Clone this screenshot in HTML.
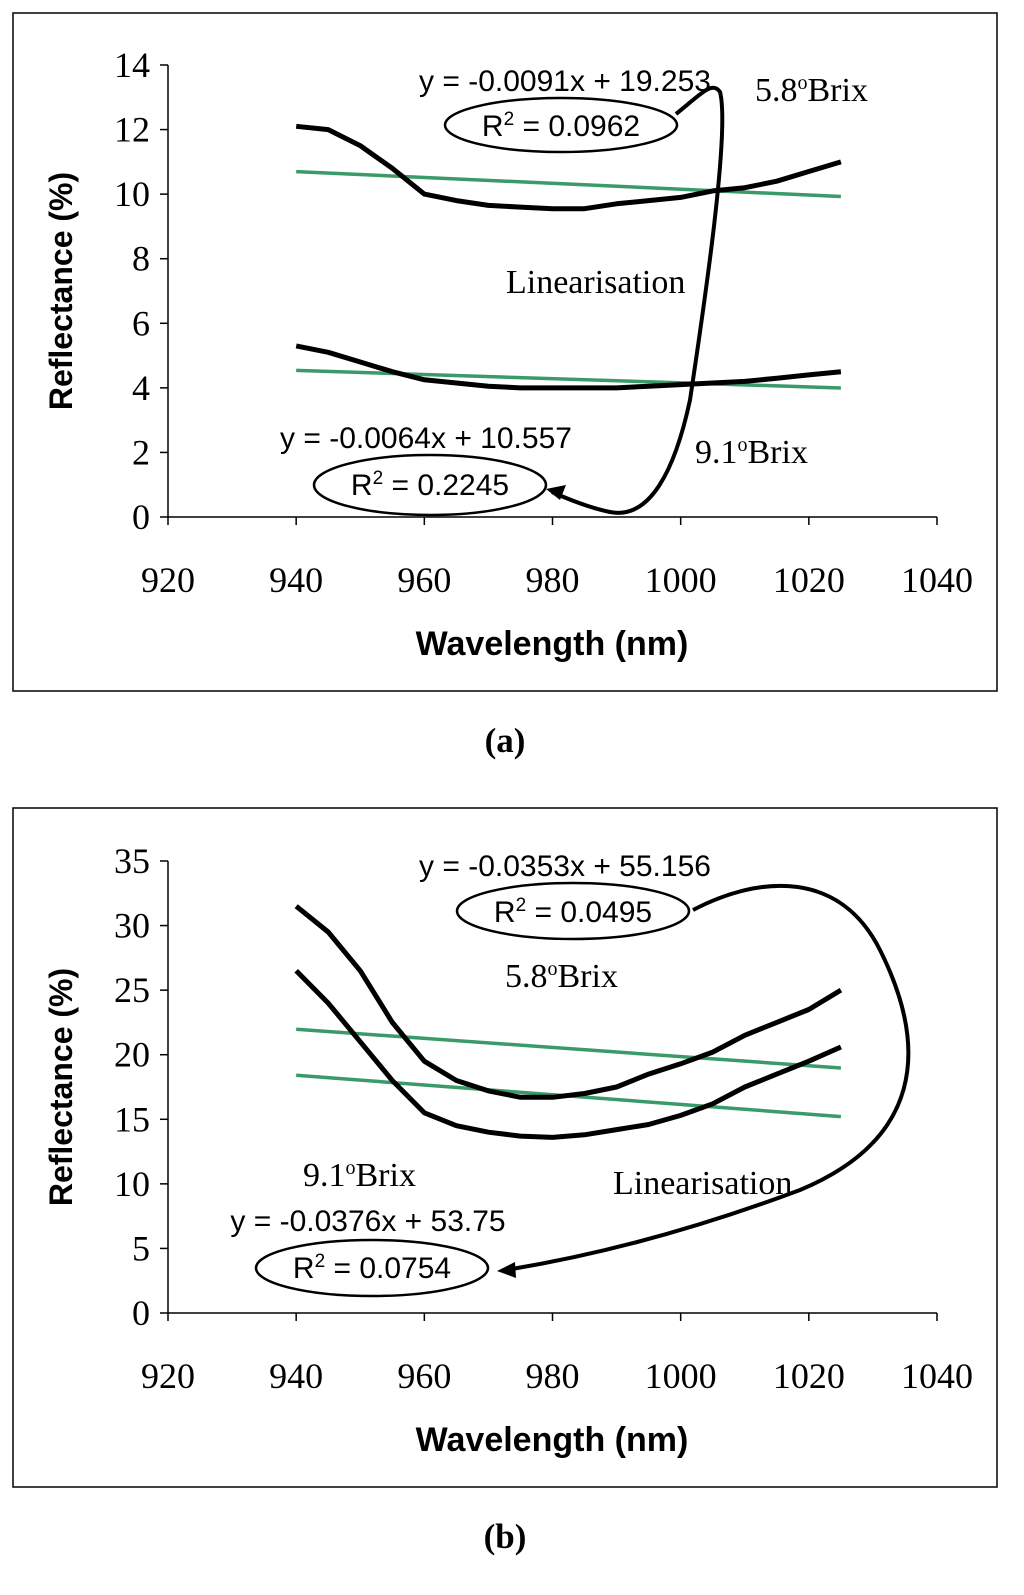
<!DOCTYPE html>
<html><head><meta charset="utf-8"><style>
body{margin:0;background:#fff}
svg text{font-family:"Liberation Serif",serif}
.sans{font-family:"Liberation Sans",sans-serif}
</style></head><body>
<svg id="svg" width="1024" height="1590" viewBox="0 0 1024 1590" xmlns="http://www.w3.org/2000/svg">
<rect x="13" y="13" width="984" height="678" fill="none" stroke="#000" stroke-width="1.5"/>
<rect x="13" y="808" width="984" height="679" fill="none" stroke="#000" stroke-width="1.5"/>
<g id="ga"></g>
<g id="gb"></g>
<text x="505" y="752" font-size="35" font-weight="bold" text-anchor="middle">(a)</text>
<text x="505" y="1548" font-size="35" font-weight="bold" text-anchor="middle">(b)</text>
<g fill="none" stroke="#000">
<ellipse cx="561" cy="125" rx="116" ry="27" stroke-width="2.5"/>
<ellipse cx="430" cy="485" rx="116" ry="30" stroke-width="2.5"/>
<path d="M676,114 C700,95 712,80 720,92 C730,130 705,300 690,400 C675,470 650,520 610,512 C590,508 570,500 552,492" stroke-width="4"/>
<polygon points="546,489 566,485 560,500" fill="#000" stroke="none"/>
<ellipse cx="573" cy="911" rx="116" ry="28" stroke-width="2.5"/>
<ellipse cx="372" cy="1268" rx="116" ry="28" stroke-width="2.5"/>
<path d="M693,910 C760,875 840,870 880,950 C930,1050 920,1140 800,1190 C680,1235 580,1258 506,1270" stroke-width="4"/>
<polygon points="497,1271 515,1262 516,1278" fill="#000" stroke="none"/>
</g>
<g>
<text class="sans" x="565" y="91" text-anchor="middle" font-size="30">y = -0.0091x + 19.253</text>
<text class="sans" x="561" y="136" text-anchor="middle" font-size="30">R<tspan dy="-11" font-size="19">2</tspan><tspan dy="11"> = 0.0962</tspan></text>
<text class="sans" x="426" y="448" text-anchor="middle" font-size="30">y = -0.0064x + 10.557</text>
<text class="sans" x="430" y="495" text-anchor="middle" font-size="30">R<tspan dy="-11" font-size="19">2</tspan><tspan dy="11"> = 0.2245</tspan></text>
<text class="sans" x="565" y="876" text-anchor="middle" font-size="30">y = -0.0353x + 55.156</text>
<text class="sans" x="573" y="922" text-anchor="middle" font-size="30">R<tspan dy="-11" font-size="19">2</tspan><tspan dy="11"> = 0.0495</tspan></text>
<text class="sans" x="368" y="1231" text-anchor="middle" font-size="30">y = -0.0376x + 53.75</text>
<text class="sans" x="372" y="1278" text-anchor="middle" font-size="30">R<tspan dy="-11" font-size="19">2</tspan><tspan dy="11"> = 0.0754</tspan></text>
</g>
<g font-size="34">
<text x="755" y="101">5.8<tspan dy="-12" font-size="20">o</tspan><tspan dy="12">Brix</tspan></text>
<text x="695" y="463">9.1<tspan dy="-12" font-size="20">o</tspan><tspan dy="12">Brix</tspan></text>
<text x="506" y="293">Linearisation</text>
<text x="505" y="987">5.8<tspan dy="-12" font-size="20">o</tspan><tspan dy="12">Brix</tspan></text>
<text x="303" y="1186">9.1<tspan dy="-12" font-size="20">o</tspan><tspan dy="12">Brix</tspan></text>
<text x="613" y="1194">Linearisation</text>
</g>
</svg>
<script>
const xTicks=[920,940,960,980,1000,1020,1040];
const aYTicks=[0,2,4,6,8,10,12,14];
const bYTicks=[0,5,10,15,20,25,30,35];
const waves=[940,945,950,955,960,965,970,975,980,985,990,995,1000,1005,1010,1015,1020,1025];
const aUpper=[12.1,12.0,11.5,10.8,10.0,9.8,9.65,9.6,9.55,9.55,9.7,9.8,9.9,10.1,10.2,10.4,10.7,11.0];
const aLower=[5.3,5.1,4.8,4.5,4.25,4.15,4.05,4.0,4.0,4.0,4.0,4.05,4.1,4.15,4.2,4.3,4.4,4.5];
const bUpper=[31.5,29.5,26.5,22.5,19.5,18.0,17.2,16.7,16.7,17.0,17.5,18.5,19.3,20.2,21.5,22.5,23.5,25.0];
const bLower=[26.5,24.0,21.0,18.0,15.5,14.5,14.0,13.7,13.6,13.8,14.2,14.6,15.3,16.2,17.5,18.5,19.5,20.6];
const aFits=[[-0.0091,19.253],[-0.0064,10.557]];
const bFits=[[-0.0353,55.156],[-0.0376,53.75]];
const NS='http://www.w3.org/2000/svg';
function mk(p,t,a){const e=document.createElementNS(NS,t);for(const k in a)e.setAttribute(k,a[k]);p.appendChild(e);return e;}
function chart(g,yTicks,y0px,y1px,series,fits,tag){
 const x=v=>168+(v-920)/120*(937-168);
 const yMax=yTicks[yTicks.length-1];
 const y=v=>y0px-(v/yMax)*(y0px-y1px);
 mk(g,'line',{x1:168,y1:y0px,x2:937,y2:y0px,stroke:'#000','stroke-width':1.5});
 mk(g,'line',{x1:168,y1:y0px,x2:168,y2:y1px,stroke:'#000','stroke-width':1.5});
 xTicks.forEach(t=>{mk(g,'line',{x1:x(t),y1:y0px,x2:x(t),y2:y0px+8,stroke:'#000','stroke-width':1.5});
  const tx=mk(g,'text',{x:x(t),y:y0px+75,'font-size':36,'text-anchor':'middle'});tx.textContent=t;
  
  });
 yTicks.forEach(t=>{mk(g,'line',{x1:160,y1:y(t),x2:168,y2:y(t),stroke:'#000','stroke-width':1.5});
  const tx=mk(g,'text',{x:150,y:y(t)+12,'font-size':36,'text-anchor':'end'});tx.textContent=t;
  
  });
 const xt=mk(g,'text',{x:552,y:y0px+138,'font-size':34,'font-weight':'bold','text-anchor':'middle',class:'sans'});xt.textContent='Wavelength (nm)';
 
 
 const cy=(y0px+y1px)/2;
 const yt=mk(g,'text',{x:72,y:cy,'font-size':32,'font-weight':'bold','text-anchor':'middle',class:'sans',transform:`rotate(-90 72 ${cy})`});yt.textContent='Reflectance (%)';
 
 
 fits.forEach((f,i)=>{const l=mk(g,'line',{x1:x(940),y1:y(f[0]*940+f[1]),x2:x(1025),y2:y(f[0]*1025+f[1]),stroke:'#3a9a6a','stroke-width':3.5});
  
  });
 series.forEach((s,i)=>{let d='';s.forEach((v,j)=>{d+=(j?'L':'M')+x(waves[j]).toFixed(1)+','+y(v).toFixed(1);});
  const p=mk(g,'path',{d:d,fill:'none',stroke:'#000','stroke-width':5,'stroke-linejoin':'round'});
  
  });
}
chart(document.getElementById('ga'),aYTicks,517,65,[aUpper,aLower],aFits,'a');
chart(document.getElementById('gb'),bYTicks,1313,861,[bUpper,bLower],bFits,'b');
</script>
</body></html>
